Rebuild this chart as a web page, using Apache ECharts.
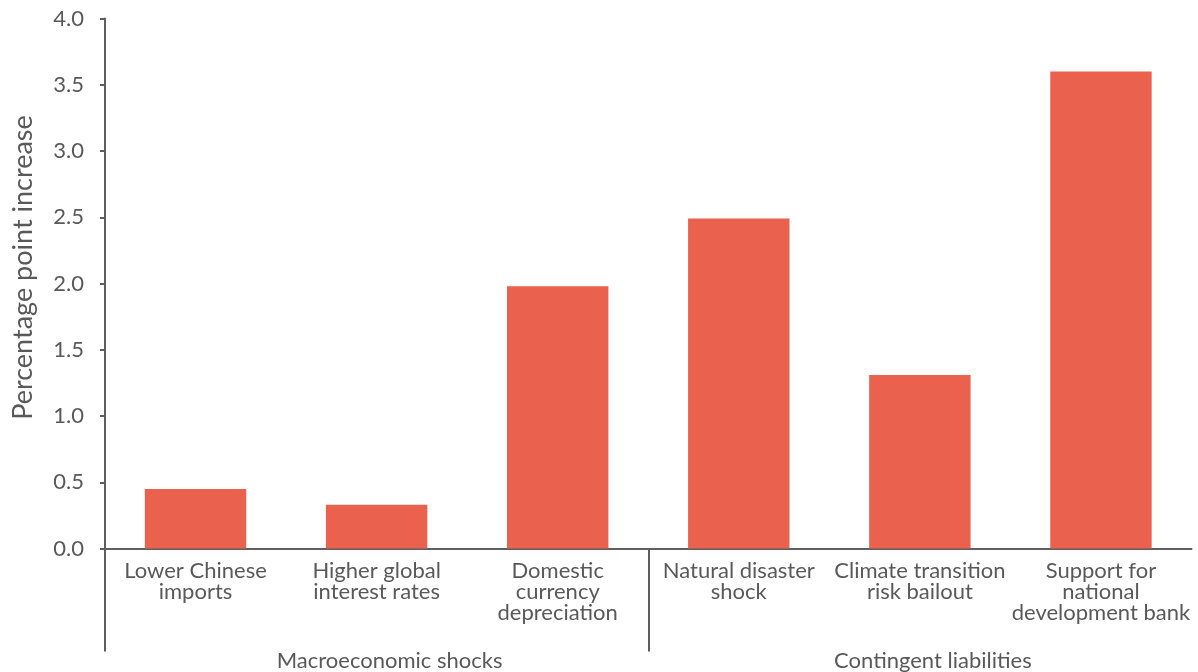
<!DOCTYPE html>
<html>
<head>
<meta charset="utf-8">
<script src="https://cdn.jsdelivr.net/npm/echarts@6/dist/echarts.min.js"></script>
<style>
  html, body { margin: 0; padding: 0; background: #fff; }
  #chart { width: 1198px; height: 672px; }
</style>
</head>
<body>
<div id="chart"></div>
<script>
var categories = [
    'Lower Chinese\nimports',
    'Higher global\ninterest rates',
    'Domestic\ncurrency\ndepreciation',
    'Natural disaster\nshock',
    'Climate transition\nrisk bailout',
    'Support for\nnational\ndevelopment bank'
];
var values = [0.45, 0.33, 1.98, 2.49, 1.31, 3.60];
var groups = ['Macroeconomic shocks', 'Contingent liabilities'];
// group boundaries: start, split, end (only used for the separator ticks)
var groupBounds = ['start', 'split', 'end'];
var yTicks = [0, 0.5, 1, 1.5, 2, 2.5, 3, 3.5, 4];

var textColor = '#595959';
var lineColor = '#5f5f5f';
var fontFamily = 'Lato, "Open Sans", sans-serif';

var chart = echarts.init(document.getElementById('chart'));

var option = {
    backgroundColor: '#fff',
    animation: false,
    grid: {
        left: 105,
        right: 6.5,
        top: 18.5,
        bottom: 123.5,
        containLabel: false,
        outerBoundsMode: 'none'
    },
    xAxis: [{
        type: 'category',
        data: categories,
        axisLine: { lineStyle: { color: lineColor, width: 2 } },
        axisTick: { show: false },
        axisLabel: {
            interval: 0,
            color: textColor,
            fontFamily: fontFamily,
            fontSize: 22,
            lineHeight: 21,
            margin: 12
        }
    }, {
        // separator ticks between the two groups
        type: 'category',
        data: groupBounds,
        boundaryGap: false,
        position: 'bottom',
        axisLine: { show: false },
        axisTick: {
            show: true,
            length: 103,
            interval: function (index) { return index < 2; },
            lineStyle: { color: lineColor, width: 2 }
        },
        axisLabel: { show: false },
        splitLine: { show: false }
    }, {
        type: 'category',
        data: groups,
        position: 'bottom',
        axisLine: { show: false },
        axisTick: { show: false },
        axisLabel: {
            interval: 0,
            color: textColor,
            fontFamily: fontFamily,
            fontSize: 22,
            lineHeight: 22,
            margin: 101,
            padding: [0, 0, 0, 26]
        },
        splitLine: { show: false }
    }],
    yAxis: {
        type: 'value',
        min: yTicks[0],
        max: yTicks[yTicks.length - 1],
        interval: 0.5,
        name: 'Percentage point increase',
        nameLocation: 'middle',
        nameRotate: 90,
        nameGap: 68,
        nameTextStyle: {
            color: textColor,
            fontFamily: fontFamily,
            fontSize: 27,
            padding: [0, 0, 0, 32]
        },
        axisLine: { show: true, lineStyle: { color: lineColor, width: 2 } },
        axisTick: { show: true, length: 5, lineStyle: { color: lineColor, width: 2 } },
        axisLabel: {
            color: textColor,
            fontFamily: fontFamily,
            fontSize: 22,
            margin: 21,
            formatter: function (v) { return v.toFixed(1); }
        },
        splitLine: { show: false }
    },
    series: [{
        type: 'bar',
        data: values,
        barWidth: '56%',
        itemStyle: { color: '#EA614E' }
    }]
};

chart.setOption(option);
</script>
</body>
</html>
